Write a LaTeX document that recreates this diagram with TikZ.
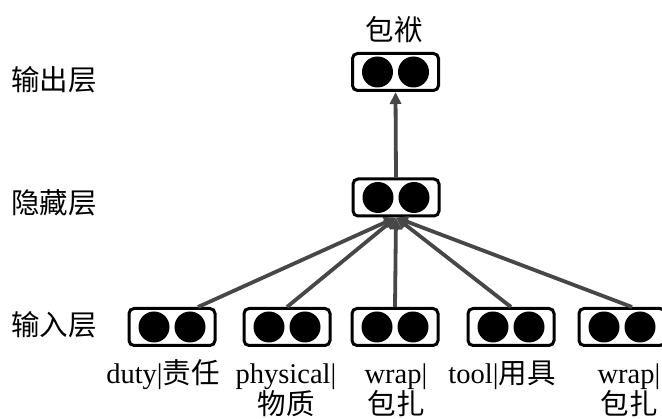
\documentclass[tikz,border=0pt]{standalone}
\usepackage{fontspec}
\setmainfont{Liberation Serif}
\newfontfamily\cjk{Noto Sans CJK SC}
\usetikzlibrary{calc,arrows.meta}
\begin{document}
\begin{tikzpicture}[x=1pt,y=-1pt,
  unit/.style={draw,line width=3pt,rounded corners=5pt,minimum width=86pt,minimum height=37pt,inner sep=0pt},
  conn/.style={draw=black!72,line width=3.8pt,-{Triangle[length=12pt,width=11pt]}},
  lbl/.style={font=\fontsize{28.5}{31}\selectfont,inner sep=0pt,align=center},
]
\useasboundingbox (0,0) rectangle (662,419);
\clip (0,0) rectangle (662,419);
\node[unit] (out) at (395.5,72) {};
\node[unit] (hid) at (396,197.5) {};
\node[unit] (i1) at (172,327) {};
\node[unit] (i2) at (287,327) {};
\node[unit] (i3) at (395,327) {};
\node[unit] (i4) at (511,327) {};
\node[unit] (i5) at (622,327) {};
\foreach \n in {out,hid,i1,i2,i3,i4,i5}{
  \fill ($(\n.center)+(-18,0)$) circle (15.5pt);
  \fill ($(\n.center)+(18,0)$) circle (15.5pt);
}
\draw[conn] ($(i1.north)+(26,0)$) -- (hid.south);
\draw[conn] (i2.north) -- (hid.south);
\draw[conn] (i3.north) -- (hid.south);
\draw[conn] (i4.north) -- (hid.south);
\draw[conn] ($(i5.north)+(10,0)$) -- (hid.south);
\draw[conn] (hid.north) -- (out.south);
\node[lbl,anchor=west] (l1) at (11,80) {\cjk 输出层};
\node[lbl,anchor=west] (l2) at (11,203) {\cjk 隐藏层};
\node[lbl,anchor=west] (l3) at (11,325) {\cjk 输入层};
\node[lbl] (t0) at (394,30) {\cjk 包袱};
\node[lbl] (t1) at (163,375) {duty|{\cjk 责任}};
\node[lbl] (t2) at (286,390) {physical|\\{\cjk 物质}};
\node[lbl] (t3) at (396,390) {wrap|\\{\cjk 包扎}};
\node[lbl] (t4) at (502,375) {tool|{\cjk 用具}};
\node[lbl] (t5) at (629,390) {wrap|\\{\cjk 包扎}};
\end{tikzpicture}
\end{document}
